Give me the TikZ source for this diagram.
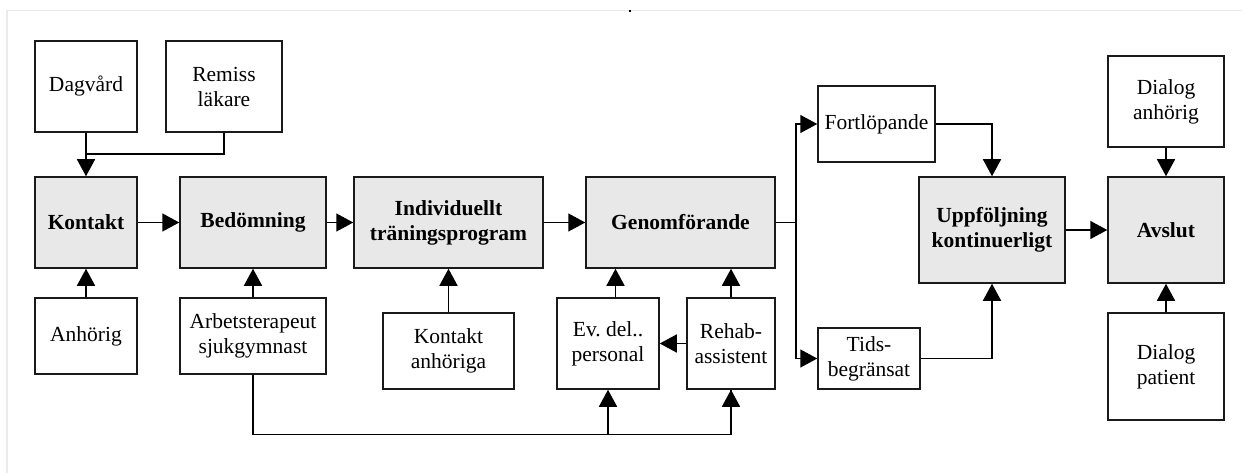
\documentclass[tikz,border=0pt]{standalone}
\usepackage{fontspec}
\setmainfont{Liberation Serif}
\usetikzlibrary{arrows.meta, positioning}
\definecolor{box-fill}{HTML}{E8E8E8}
\definecolor{box-border}{HTML}{1A1A1A}
\definecolor{arrow}{HTML}{000000}
\definecolor{frame}{HTML}{EBEBEB}
\tikzset{
  side-box/.style={
    rectangle, draw=box-border, fill=white, line width=1.5pt,
    inner sep=0pt, align=center, font=\fontsize{21.5}{25}\selectfont
  },
  main-box/.style={
    side-box, fill=box-fill, font=\fontsize{21.5}{25}\selectfont\bfseries
  },
  flow-edge/.style={-{Triangle[width=18pt, length=17pt]}, line width=1.5pt, draw=arrow},
  flow-line/.style={line width=1.5pt, draw=arrow}
}

\begin{document}
\begin{tikzpicture}[x=1pt, y=-1pt]
  \useasboundingbox (0,0) rectangle (1242,473);
  % faint page frame
  \draw[frame, line width=1.5pt] (7,473) -- (7,10.5) -- (1242,10.5);
  \fill (629,10) rectangle (631,12);

  % Main chain
  \node[main-box, minimum width=102pt, minimum height=91pt]  (kontakt) at (86,222.5)    {Kontakt};
  \node[main-box, minimum width=146pt, minimum height=91pt]  (bedom)   at (253,222.5)   {Bedömning};
  \node[main-box, minimum width=189pt, minimum height=91pt]  (indiv)   at (448.5,222.5) {Individuellt\\träningsprogram};
  \node[main-box, minimum width=189pt, minimum height=91pt]  (genom)   at (680.5,222.5) {Genomförande};
  \node[main-box, minimum width=146pt, minimum height=106pt] (uppf)    at (992,230)     {Uppföljning\\kontinuerligt};
  \node[main-box, minimum width=116pt, minimum height=106pt] (avslut)  at (1166,230)    {Avslut};

  % Side boxes
  \node[side-box, minimum width=102pt, minimum height=91pt]  (dagvard) at (86,86.5)     {Dagvård};
  \node[side-box, minimum width=116pt, minimum height=91pt]  (remiss)  at (224,86.5)    {Remiss\\läkare};
  \node[side-box, minimum width=102pt, minimum height=76pt]  (anhorig) at (86,336)      {Anhörig};
  \node[side-box, minimum width=146pt, minimum height=76pt]  (arbets)  at (253,336)     {Arbetsterapeut\\sjukgymnast};
  \node[side-box, minimum width=131pt, minimum height=76pt]  (kanhor)  at (448.5,351)   {Kontakt\\anhöriga};
  \node[side-box, minimum width=102pt, minimum height=91pt]  (evdel)   at (608,343.5)   {Ev.\ del..\\personal};
  \node[side-box, minimum width=88pt,  minimum height=91pt]  (rehab)   at (731,343.5)   {Rehab-\\assistent};
  \node[side-box, minimum width=117pt, minimum height=76pt]  (fortl)   at (876.5,124)   {Fortlöpande};
  \node[side-box, minimum width=102pt, minimum height=61pt]  (tids)    at (869,358.5)   {Tids-\\begränsat};
  \node[side-box, minimum width=116pt, minimum height=91pt]  (dialoga) at (1166,101.5)  {Dialog\\anhörig};
  \node[side-box, minimum width=116pt, minimum height=107pt] (dialogp) at (1166,366.5)  {Dialog\\patient};

  % Junction points
  \coordinate (join)  at (86,154);
  \coordinate (bus)   at (253,434.5);
  \coordinate (split) at (796,222.5);

  % Forward transitions
  \draw[flow-edge] (kontakt) -- (bedom);
  \draw[flow-edge] (bedom) -- (indiv);
  \draw[flow-edge] (indiv) -- (genom);
  \draw[flow-edge] (uppf) -- (avslut);
  \draw[flow-line] (genom) -- (split);
  \draw[flow-edge] (split) |- (fortl.west);
  \draw[flow-edge] (split) |- (tids.west);
  \draw[flow-edge] (fortl.east) -| (uppf.north);
  \draw[flow-edge] (tids.east) -| (uppf.south);

  % Inputs from above and below
  \draw[flow-edge] (dagvard) -- (kontakt);
  \draw[flow-line] (remiss.south) |- (join);
  \draw[flow-edge] (anhorig) -- (kontakt);
  \draw[flow-edge] (arbets) -- (bedom);
  \draw[flow-edge] (kanhor) -- (indiv);
  \draw[flow-edge] ([xshift=7.5pt]evdel.north) -- ([xshift=7.5pt]evdel.north |- genom.south);
  \draw[flow-edge] (rehab.north) -- (rehab.north |- genom.south);
  \draw[flow-edge] (rehab) -- (evdel);
  \draw[flow-edge] (dialoga) -- (avslut);
  \draw[flow-edge] (dialogp) -- (avslut);

  % Bus under the lower boxes
  \draw[flow-line] (arbets.south) -- (bus) -| (rehab.south);
  \draw[flow-edge] (bus) -| (rehab.south);
  \draw[flow-edge] (bus -| evdel.south) -- (evdel.south);
\end{tikzpicture}
\end{document}
